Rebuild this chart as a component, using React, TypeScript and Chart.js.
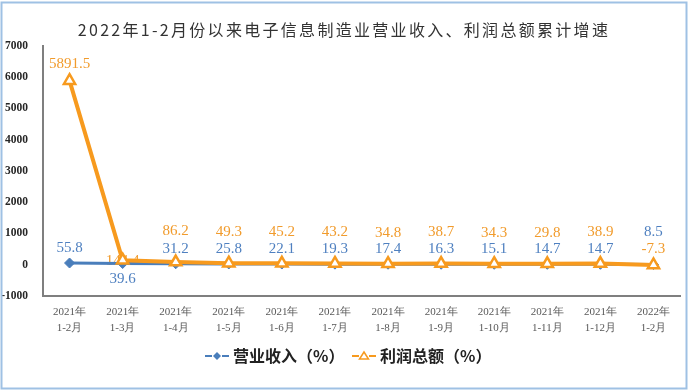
import React, { useEffect, useRef } from 'react';
import { Chart, registerables } from 'chart.js';

Chart.register(...registerables);

const TITLE = '2022年1-2月份以来电子信息制造业营业收入、利润总额累计增速';
const yearLabels = ['2021年', '2021年', '2021年', '2021年', '2021年', '2021年', '2021年', '2021年', '2021年', '2021年', '2021年', '2022年'];
const monthLabels = ['1-2月', '1-3月', '1-4月', '1-5月', '1-6月', '1-7月', '1-8月', '1-9月', '1-10月', '1-11月', '1-12月', '1-2月'];
const seriesNames = ['营业收入（%）', '利润总额（%）'];
const revenueGrowth = [55.8, 39.6, 31.2, 25.8, 22.1, 19.3, 17.4, 16.3, 15.1, 14.7, 14.7, 8.5];
const profitGrowth = [5891.5, 144.4, 86.2, 49.3, 45.2, 43.2, 34.8, 38.7, 34.3, 29.8, 38.9, -7.3];
const yMin = -1000;
const yMax = 7000;
const yStep = 1000;

const BLUE = '#4a7ebb';
const BLUE_TXT = '#4f80c0';
const ORANGE = '#f79a1e';
const ORANGE_TXT = '#f19b2c';
const SERIF = '"Liberation Serif", "Times New Roman", "DejaVu Serif", serif';

function blueOffset(i: number, n: number) {
  if (i === 1) return 16;
  if (i === n - 1) return -32;
  return -15;
}
function orangeOffset(i: number, n: number) {
  if (i === 0) return -17;
  if (i === 1) return 1;
  if (i === n - 1) return -16;
  return -31;
}

const framePlugin = {
  id: 'frame',
  beforeDraw(chart: any) {
    const ctx = chart.ctx;
    ctx.save();
    ctx.fillStyle = '#ffffff';
    ctx.fillRect(0, 0, chart.width, chart.height);
    ctx.restore();
  },
  afterDraw(chart: any) {
    const ctx = chart.ctx;
    ctx.save();
    ctx.strokeStyle = '#9fc1e4';
    ctx.lineWidth = 2;
    ctx.strokeRect(1.5, 2.5, chart.width - 4, chart.height - 4);
    ctx.restore();
  },
};

const titlePlugin = {
  id: 'customTitle',
  afterDraw(chart: any) {
    const ctx = chart.ctx;
    ctx.save();
    ctx.fillStyle = '#333333';
    ctx.font = '16px "Noto Sans CJK SC", "Noto Sans", sans-serif';
    (ctx as any).letterSpacing = '2.3px';
    ctx.textAlign = 'center';
    ctx.textBaseline = 'middle';
    ctx.fillText(TITLE, 344, 30);
    ctx.restore();
  },
};

const labelPlugin = {
  id: 'valueLabels',
  beforeDatasetsDraw(chart: any) {
    const ctx = chart.ctx;
    ctx.save();
    ctx.font = '15px ' + SERIF;
    ctx.textAlign = 'center';
    ctx.textBaseline = 'middle';
    chart.data.datasets.forEach((ds: any, di: number) => {
      const meta = chart.getDatasetMeta(di);
      const n = ds.data.length;
      meta.data.forEach((pt: any, i: number) => {
        const v = ds.data[i];
        const off = di === 0 ? blueOffset(i, n) : orangeOffset(i, n);
        ctx.fillStyle = di === 0 ? BLUE_TXT : ORANGE_TXT;
        ctx.fillText(String(v), pt.x, pt.y + off);
      });
    });
    ctx.restore();
  },
};

const legendPlugin = {
  id: 'customLegend',
  afterDraw(chart: any) {
    const ctx = chart.ctx;
    const y = 356;
    ctx.save();
    ctx.font = 'bold 16px "Noto Sans CJK SC", sans-serif';
    ctx.textBaseline = 'middle';
    ctx.textAlign = 'left';
    const items = [
      { x: 205, color: BLUE, name: seriesNames[0], shape: 'diamond' },
      { x: 352, color: ORANGE, name: seriesNames[1], shape: 'triangle' },
    ];
    items.forEach((it) => {
      ctx.strokeStyle = it.color;
      ctx.lineWidth = 2;
      ctx.beginPath();
      ctx.moveTo(it.x, y);
      ctx.lineTo(it.x + 7, y);
      ctx.moveTo(it.x + 17, y);
      ctx.lineTo(it.x + 24, y);
      ctx.stroke();
      const cx = it.x + 12;
      ctx.beginPath();
      if (it.shape === 'diamond') {
        ctx.fillStyle = it.color;
        ctx.moveTo(cx, y - 4);
        ctx.lineTo(cx + 4, y);
        ctx.lineTo(cx, y + 4);
        ctx.lineTo(cx - 4, y);
        ctx.closePath();
        ctx.fill();
      } else {
        ctx.fillStyle = '#fff';
        ctx.lineWidth = 1.5;
        ctx.moveTo(cx, y - 4);
        ctx.lineTo(cx + 4.5, y + 3);
        ctx.lineTo(cx - 4.5, y + 3);
        ctx.closePath();
        ctx.fill();
        ctx.stroke();
      }
      ctx.fillStyle = '#222222';
      ctx.fillText(it.name, it.x + 28, y);
    });
    ctx.restore();
  },
};

export default function App() {
  const ref = useRef<HTMLCanvasElement | null>(null);
  useEffect(() => {
    document.body.style.margin = '0';
    const canvas = ref.current;
    if (!canvas) return;
    const labels = yearLabels.map((y, i) => [y, monthLabels[i]]);
    const chart = new Chart(canvas, {
      type: 'line',
      data: {
        labels,
        datasets: [
          {
            label: seriesNames[0],
            data: revenueGrowth,
            borderColor: BLUE,
            backgroundColor: BLUE,
            borderWidth: 3,
            pointStyle: 'rectRot',
            pointRadius: 5,
            pointBackgroundColor: BLUE,
            pointBorderColor: BLUE,
            pointBorderWidth: 1,
            tension: 0,
            order: 2,
          },
          {
            label: seriesNames[1],
            data: profitGrowth,
            borderColor: ORANGE,
            backgroundColor: '#ffffff',
            borderWidth: 4,
            pointStyle: 'triangle',
            pointRadius: 6.5,
            pointBackgroundColor: '#ffffff',
            pointBorderColor: ORANGE,
            pointBorderWidth: 2.5,
            tension: 0,
            order: 1,
          },
        ],
      },
      options: {
        responsive: false,
        animation: false,
        layout: { padding: { top: 46, right: 6, left: 0, bottom: 0 } },
        plugins: {
          legend: { display: false },
          title: { display: false },
          tooltip: { enabled: false },
        },
        scales: {
          x: {
            offset: true,
            grid: { display: false },
            border: { display: true, color: '#7f7f7f', width: 2 },
            ticks: {
              color: '#595959',
              font: { family: SERIF, size: 11, lineHeight: 1.45 },
              padding: 0,
              maxRotation: 0,
              autoSkip: false,
            },
            afterFit(scale: any) {
              scale.height = 94;
            },
          },
          y: {
            min: yMin,
            max: yMax,
            grid: { display: false },
            border: { display: true, color: '#7f7f7f', width: 2 },
            ticks: {
              stepSize: yStep,
              color: '#262626',
              font: { family: SERIF, size: 11.5, weight: 'bold' },
              padding: 7,
              callback: (v: any) => String(v),
            },
            afterFit(scale: any) {
              scale.width = 43;
            },
          },
        },
      },
      plugins: [framePlugin, labelPlugin, titlePlugin, legendPlugin],
    } as any);
    return () => chart.destroy();
  }, []);
  return <canvas ref={ref} width={689} height={390} style={{ display: 'block', width: 689, height: 390 }} />;
}
